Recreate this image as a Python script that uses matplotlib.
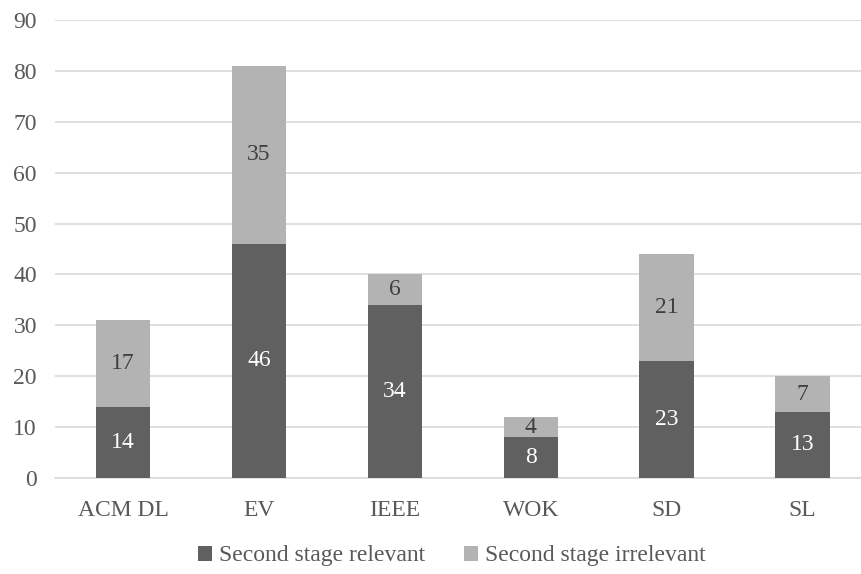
import matplotlib
matplotlib.use('Agg')
import matplotlib.pyplot as plt
import numpy as np

categories = ['ACM DL', 'EV', 'IEEE', 'WOK', 'SD', 'SL']
relevant = [14, 46, 34, 8, 23, 13]
irrelevant = [17, 35, 6, 4, 21, 7]

DARK = '#606060'
LIGHT = '#b3b3b3'
TEXT = '#595959'
FS = 17

plt.rcParams['font.family'] = ['Liberation Serif', 'DejaVu Serif']

fig = plt.figure(figsize=(8.61, 5.74), dpi=100)
ax = fig.add_axes([55 / 861, 96 / 574, 806 / 861, 458 / 574])

x = np.arange(len(categories))
w = 0.40
b1 = ax.bar(x, relevant, w, color=DARK, label='Second stage relevant', zorder=3)
b2 = ax.bar(x, irrelevant, w, bottom=relevant, color=LIGHT,
            label='Second stage irrelevant', zorder=3)

for i in range(len(categories)):
    ax.text(x[i], relevant[i] / 2, str(relevant[i]), ha='center', va='center',
            color='white', fontsize=FS, zorder=4)
    ax.text(x[i], relevant[i] + irrelevant[i] / 2, str(irrelevant[i]),
            ha='center', va='center', color='#404040', fontsize=FS, zorder=4)

ax.set_xlim(-0.5, 5.43)
ax.set_ylim(0, 90)
ax.set_yticks(range(0, 91, 10))
ax.set_xticks(x)
ax.set_xticklabels(categories)
ax.yaxis.grid(True, color='#d9d9d9', linewidth=1.2, zorder=0)
ax.tick_params(length=0, labelsize=FS, colors=TEXT)
ax.tick_params(axis='y', pad=13)
ax.tick_params(axis='x', pad=16)
for s in ['top', 'right', 'left']:
    ax.spines[s].set_visible(False)
ax.spines['bottom'].set_color('#d9d9d9')
ax.spines['bottom'].set_linewidth(1.2)

fig.legend(handles=[b1, b2], loc='center', bbox_to_anchor=(452 / 861, 1 - 556 / 574),
           ncol=2, frameon=False, fontsize=FS, handlelength=0.6, handleheight=0.6,
           handletextpad=0.3, columnspacing=1.65, labelcolor=TEXT)

fig.savefig('out.png', dpi=100)
